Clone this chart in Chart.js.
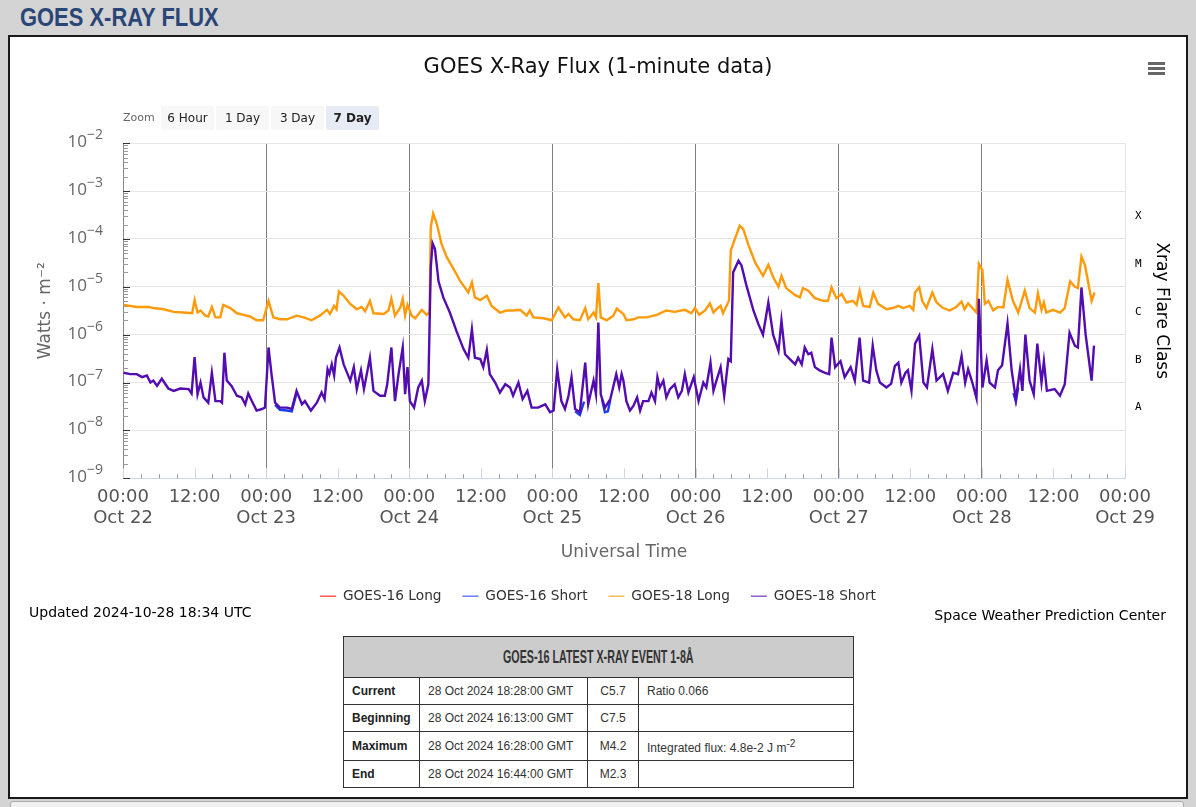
<!DOCTYPE html>
<html>
<head>
<meta charset="utf-8">
<title>GOES X-Ray Flux</title>
<script src="https://cdn.jsdelivr.net/npm/chart.js@4.4.1/dist/chart.umd.min.js"></script>
<style>
  html, body { margin: 0; padding: 0; }
  body { width: 1196px; height: 807px; background: #d4d4d4; position: relative; overflow: hidden; font-family: "DejaVu Sans", sans-serif; }
  #hdr { position: absolute; left: 20px; top: 5px; font: bold 25.5px/25.5px "Liberation Sans", Arial, sans-serif; color: #2a4677; transform: scaleX(0.86); transform-origin: left top; white-space: nowrap; }
  #panel { position: absolute; left: 8px; top: 35px; width: 1176px; height: 760px; background: #fff; border: 2px solid #1a1a1a; }
  #bottomBox { position: absolute; left: 10px; top: 801px; width: 1172px; height: 20px; background: #f0f0f0; border: 1px solid #aaa; border-radius: 3px; }
  #chartBox { position: absolute; left: 0; top: 0; width: 1196px; height: 621px; }
  .zl { position: absolute; left: 123px; top: 106px; line-height: 24px; font-size: 11px; color: #666; }
  .zb { position: absolute; top: 106px; width: 53px; height: 24px; line-height: 24px; text-align: center; font-size: 12px; color: #222; background: #f7f7f7; border-radius: 2px; }
  .zb.on { background: #e6ebf5; font-weight: bold; }
  .bar { position: absolute; left: 1148px; width: 17px; height: 3px; background: #666; }
  #updated { position: absolute; left: 29px; top: 604px; font-size: 14px; line-height: 16px; color: #000; }
  #credit { position: absolute; right: 30px; top: 607px; font-size: 14px; line-height: 16px; color: #000; }
  #evt { position: absolute; left: 343px; top: 636px; width: 510px; table-layout: fixed; border-collapse: collapse; font-family: "Liberation Sans", Arial, sans-serif; font-size: 12px; color: #333; }
  #evt th { height: 40px; background: #cccccc; border: 1px solid #333; padding: 0; text-align: center; }
  #evt th span { display: inline-block; font: bold 18.5px "Liberation Sans", Arial, sans-serif; color: #333; transform: scaleX(0.58); white-space: nowrap; }
  #evt td { border: 1px solid #333; padding: 0 0 0 8px; height: 26px; white-space: nowrap; overflow: hidden; }
  #evt td.lab { font-weight: bold; color: #222; }
  #evt td.cls { text-align: center; padding: 0; }
</style>
</head>
<body>
<div id="hdr">GOES X-RAY FLUX</div>
<div id="panel"></div>
<div id="bottomBox"></div>
<div id="chartBox"><canvas id="xrayChart" width="1196" height="621"></canvas></div>
<span class="zl">Zoom</span>
<span class="zb" style="left:161px">6 Hour</span>
<span class="zb" style="left:216px">1 Day</span>
<span class="zb" style="left:271px">3 Day</span>
<span class="zb on" style="left:326px">7 Day</span>
<div class="bar" style="top:62px"></div>
<div class="bar" style="top:67px"></div>
<div class="bar" style="top:72px"></div>
<div id="updated">Updated 2024-10-28 18:34 UTC</div>
<div id="credit">Space Weather Prediction Center</div>
<table id="evt">
  <colgroup><col style="width:76px"><col style="width:168px"><col style="width:51px"><col style="width:215px"></colgroup>
  <tr><th colspan="4"><span>GOES-16 LATEST X-RAY EVENT 1-8Å</span></th></tr>
  <tr><td class="lab">Current</td><td>28 Oct 2024 18:28:00 GMT</td><td class="cls">C5.7</td><td>Ratio 0.066</td></tr>
  <tr><td class="lab">Beginning</td><td>28 Oct 2024 16:13:00 GMT</td><td class="cls">C7.5</td><td></td></tr>
  <tr><td class="lab" style="height:28px">Maximum</td><td>28 Oct 2024 16:28:00 GMT</td><td class="cls">M4.2</td><td>Integrated flux: 4.8e-2 J m<sup>-2</sup></td></tr>
  <tr><td class="lab">End</td><td>28 Oct 2024 16:44:00 GMT</td><td class="cls">M2.3</td><td></td></tr>
</table>
<script>
// Data (hours since 2024-10-22 00:00 UTC, flux in W/m2)
const g18LongHours = [0.1, 2.3, 4.3, 5.1, 6.8, 8.5, 10.1, 11.6, 12.0, 12.5,
  13.0, 13.8, 14.3, 14.9, 15.5, 16.3, 16.8, 18.0, 19.1, 20.2,
  21.3, 22.4, 23.5, 24.4, 25.2, 26.3, 27.5, 29.1, 30.3, 31.6,
  33.0, 34.2, 34.7, 35.4, 35.8, 36.2, 37.0, 38.1, 39.2, 40.0,
  40.6, 41.4, 42.0, 43.7, 44.5, 45.0, 45.6, 46.5, 46.9, 47.3,
  47.7, 48.4, 49.0, 50.1, 50.9, 51.4, 51.6, 52.0, 52.6, 53.4,
  54.3, 55.4, 56.5, 57.9, 58.5, 59.0, 59.9, 61.0, 61.8, 63.2,
  64.3, 65.4, 66.6, 67.7, 68.2, 68.8, 70.5, 71.9, 73.0, 74.1,
  74.7, 75.5, 76.6, 77.5, 78.0, 78.9, 79.3, 79.7, 80.1, 81.1,
  82.2, 82.8, 83.9, 84.4, 85.6, 86.4, 87.8, 89.5, 91.1, 92.5,
  94.2, 95.3, 95.9, 96.6, 97.6, 98.4, 99.0, 99.5, 100.2, 100.6,
  101.6, 101.9, 102.6, 103.4, 104.0, 104.8, 106.0, 107.3, 108.2, 109.0,
  109.9, 110.4, 111.2, 112.7, 113.5, 114.0, 114.9, 116.0, 117.4, 118.2,
  118.8, 119.6, 120.5, 121.3, 122.4, 123.0, 123.5, 124.1, 125.2, 125.8,
  126.6, 128.0, 129.1, 130.0, 130.8, 131.9, 132.5, 132.8, 133.5, 134.0,
  134.7, 135.7, 136.4, 137.5, 138.6, 139.7, 140.6, 141.1, 141.7, 142.8,
  143.1, 143.5, 144.1, 144.5, 145.1, 145.9, 146.7, 147.6, 148.3, 149.2,
  150.1, 151.2, 152.0, 152.9, 153.4, 154.0, 154.4, 154.8, 155.9, 157.1,
  157.9, 158.8, 159.6, 160.1, 160.7, 161.3, 162.4, 162.9];
const g18LongFlux = [4.2e-6, 3.8e-6, 3.8e-6, 3.6e-6, 3.4e-6, 3.0e-6, 2.9e-6, 2.8e-6, 5.3e-6, 2.9e-6,
  3.2e-6, 2.5e-6, 2.4e-6, 3.8e-6, 2.3e-6, 2.3e-6, 4.2e-6, 3.6e-6, 2.8e-6, 2.6e-6,
  2.4e-6, 2.0e-6, 2.0e-6, 5.1e-6, 2.3e-6, 2.1e-6, 2.1e-6, 2.5e-6, 2.3e-6, 2.0e-6,
  2.5e-6, 3.3e-6, 2.7e-6, 4.0e-6, 3.4e-6, 8.0e-6, 6.5e-6, 4.4e-6, 3.4e-6, 3.8e-6,
  3.1e-6, 5.1e-6, 2.8e-6, 2.7e-6, 3.2e-6, 5.6e-6, 2.5e-6, 3.7e-6, 5.6e-6, 2.5e-6,
  4.2e-6, 2.5e-6, 2.2e-6, 3.3e-6, 2.6e-6, 2.9e-6, 1.75e-4, 3.4e-4, 2.1e-4, 7.9e-5,
  4.1e-5, 2.4e-5, 1.34e-5, 7.6e-6, 1.24e-5, 6.0e-6, 5.3e-6, 6.5e-6, 4.0e-6, 2.9e-6,
  3.2e-6, 3.2e-6, 3.3e-6, 2.5e-6, 3.2e-6, 2.3e-6, 2.2e-6, 2.0e-6, 3.7e-6, 2.3e-6,
  2.7e-6, 2.1e-6, 2.0e-6, 3.6e-6, 2.1e-6, 2.9e-6, 2.3e-6, 1.2e-5, 2.3e-6, 2.0e-6,
  2.5e-6, 3.5e-6, 2.7e-6, 2.0e-6, 2.1e-6, 2.3e-6, 2.3e-6, 2.6e-6, 3.2e-6, 3.0e-6,
  3.3e-6, 2.8e-6, 3.6e-6, 2.6e-6, 3.2e-6, 4.5e-6, 2.9e-6, 3.4e-6, 4.0e-6, 2.8e-6,
  5.1e-6, 5.7e-5, 1.0e-4, 1.9e-4, 1.6e-4, 7.9e-5, 3.2e-5, 1.7e-5, 2.9e-5, 1.6e-5,
  1.0e-5, 1.7e-5, 9.4e-6, 6.7e-6, 6.0e-6, 9.4e-6, 8.3e-6, 5.8e-6, 5.1e-6, 5.1e-6,
  9.7e-6, 5.8e-6, 7.1e-6, 4.7e-6, 5.1e-6, 4.2e-6, 8.3e-6, 4.0e-6, 3.8e-6, 7.5e-6,
  4.4e-6, 3.4e-6, 3.6e-6, 4.0e-6, 3.6e-6, 4.0e-6, 3.3e-6, 7.6e-6, 9.7e-6, 5.1e-6,
  3.6e-6, 7.6e-6, 4.7e-6, 3.6e-6, 3.2e-6, 3.8e-6, 4.9e-6, 3.4e-6, 4.5e-6, 3.2e-6,
  2.9e-6, 3.0e-5, 2.2e-5, 4.4e-6, 5.1e-6, 3.2e-6, 3.8e-6, 3.7e-6, 1.4e-5, 5.1e-6,
  2.9e-6, 8.3e-6, 3.6e-6, 2.9e-6, 7.3e-6, 3.3e-6, 4.7e-6, 2.9e-6, 3.3e-6, 2.9e-6,
  3.6e-6, 1.3e-5, 1.0e-5, 9.4e-6, 4.3e-5, 2.8e-5, 5.1e-6, 7.6e-6];

const g18ShortHours = [0.1, 1.2, 2.3, 3.2, 4.0, 4.6, 5.1, 5.7, 6.5, 7.6,
  8.5, 9.6, 11.0, 11.5, 12.0, 12.5, 13.0, 13.5, 14.3, 14.9,
  15.5, 16.3, 16.6, 17.0, 17.4, 18.2, 19.1, 19.9, 20.5, 21.0,
  21.6, 22.4, 23.3, 23.8, 24.4, 24.9, 25.5, 26.3, 27.5, 28.3,
  29.1, 30.0, 30.5, 31.5, 32.5, 33.3, 33.8, 34.3, 34.6, 35.0,
  35.4, 35.7, 36.3, 37.0, 38.1, 38.7, 39.2, 39.9, 40.4, 41.4,
  42.0, 43.1, 43.9, 44.3, 45.0, 45.6, 46.2, 46.9, 47.3, 47.7,
  48.1, 48.8, 49.5, 50.1, 50.6, 51.2, 51.6, 51.9, 52.3, 52.9,
  53.7, 54.8, 55.9, 57.1, 57.9, 58.5, 59.0, 59.9, 60.4, 61.0,
  61.5, 62.4, 63.2, 64.1, 64.9, 65.4, 66.3, 67.0, 67.8, 68.5,
  69.6, 70.8, 71.6, 72.2, 72.8, 73.5, 74.1, 74.7, 75.2, 75.8,
  76.6, 77.5, 78.0, 78.9, 79.3, 79.7, 80.1, 80.8, 81.7, 82.7,
  83.2, 83.6, 83.9, 84.4, 85.0, 85.6, 86.2, 86.7, 87.2, 88.1,
  88.6, 89.2, 89.6, 90.0, 90.6, 91.1, 91.7, 92.5, 93.1, 93.7,
  94.2, 94.8, 95.7, 96.5, 97.3, 97.8, 98.5, 99.0, 99.5, 100.2,
  100.8, 101.5, 101.9, 102.3, 103.2, 103.7, 104.5, 105.7, 106.5, 107.3,
  108.2, 109.0, 109.9, 110.4, 111.0, 111.8, 112.7, 113.2, 113.8, 114.3,
  114.9, 115.4, 116.0, 116.8, 117.7, 118.4, 118.8, 119.4, 120.3, 121.0,
  122.0, 122.7, 123.5, 124.1, 125.1, 125.7, 126.3, 126.9, 128.0, 128.8,
  129.4, 130.0, 130.5, 131.2, 131.6, 132.2, 132.8, 133.5, 134.2, 134.8,
  135.7, 136.4, 137.5, 138.3, 139.2, 140.0, 140.6, 141.2, 141.7, 142.4,
  143.1, 143.5, 144.1, 144.8, 145.3, 146.2, 146.7, 147.4, 148.3, 149.0,
  149.7, 150.4, 150.8, 151.3, 152.0, 152.7, 153.3, 154.0, 154.4, 154.9,
  156.2, 157.1, 157.9, 158.7, 159.6, 160.1, 160.7, 161.4, 162.4, 162.8];
const g18ShortFlux = [1.6e-7, 1.5e-7, 1.5e-7, 1.3e-7, 1.4e-7, 1.0e-7, 1.1e-7, 8.5e-8, 1.2e-7, 7.5e-8,
  6.7e-8, 7.5e-8, 7.3e-8, 5.9e-8, 3.4e-7, 5.7e-8, 1.0e-7, 4.9e-8, 3.8e-8, 1.6e-7,
  4.1e-8, 4.1e-8, 3.8e-8, 4.2e-7, 1.1e-7, 8.5e-8, 5.3e-8, 4.9e-8, 3.5e-8, 5.9e-8,
  4.1e-8, 2.6e-8, 2.8e-8, 3.0e-8, 5.4e-7, 1.5e-7, 3.8e-8, 3.0e-8, 3.0e-8, 2.8e-8,
  6.7e-8, 3.5e-8, 4.1e-8, 2.6e-8, 3.8e-8, 6.2e-8, 4.5e-8, 1.9e-7, 1.5e-7, 2.4e-7,
  1.4e-7, 3.3e-7, 5.4e-7, 2.4e-7, 1.1e-7, 2.1e-7, 7.3e-8, 1.8e-7, 7.3e-8, 3.3e-7,
  6.7e-8, 5.3e-8, 5.3e-8, 9.2e-8, 5.4e-7, 4.1e-8, 1.5e-7, 5.4e-7, 5.7e-8, 2.1e-7,
  4.1e-8, 3.0e-8, 7.9e-8, 1.1e-7, 4.1e-8, 9.2e-8, 2.5e-5, 8.1e-5, 6.2e-5, 1.3e-5,
  6.0e-6, 2.9e-6, 1.2e-6, 5.0e-7, 3.3e-7, 1.3e-6, 3.3e-7, 3.1e-7, 2.1e-7, 4.8e-7,
  1.5e-7, 1.0e-7, 6.2e-8, 9.2e-8, 7.9e-8, 5.3e-8, 1.0e-7, 4.5e-8, 6.7e-8, 3.0e-8,
  3.0e-8, 3.5e-8, 2.4e-8, 2.6e-8, 1.9e-7, 4.1e-8, 2.8e-8, 5.3e-8, 1.3e-7, 2.8e-8,
  2.4e-8, 2.6e-7, 3.5e-8, 1.1e-7, 5.7e-8, 1.8e-6, 5.7e-8, 3.0e-8, 4.5e-8, 1.5e-7,
  7.9e-8, 1.5e-7, 1.1e-7, 4.1e-8, 2.6e-8, 3.3e-8, 4.9e-8, 2.6e-8, 4.1e-8, 4.1e-8,
  6.2e-8, 4.1e-8, 1.3e-7, 7.9e-8, 1.1e-7, 4.9e-8, 7.3e-8, 9.2e-8, 4.9e-8, 6.7e-8,
  1.5e-7, 6.2e-8, 1.3e-7, 4.1e-8, 1.0e-7, 7.9e-8, 2.6e-7, 6.7e-8, 1.1e-7, 2.1e-7,
  5.3e-8, 3.1e-7, 2.8e-7, 2.0e-5, 3.5e-5, 2.8e-5, 1.1e-5, 3.2e-6, 1.7e-6, 1.0e-6,
  4.7e-6, 1.0e-6, 4.6e-7, 2.0e-6, 3.9e-7, 3.1e-7, 2.4e-7, 3.3e-7, 2.4e-7, 5.4e-7,
  3.9e-7, 4.2e-7, 2.1e-7, 1.8e-7, 1.6e-7, 1.5e-7, 8.7e-7, 2.1e-7, 2.8e-7, 1.3e-7,
  2.1e-7, 1.1e-7, 8.7e-7, 1.1e-7, 1.0e-7, 5.9e-7, 1.8e-7, 1.0e-7, 7.9e-8, 9.5e-8,
  2.2e-7, 2.6e-7, 1.0e-7, 1.6e-7, 1.8e-7, 6.7e-8, 6.5e-7, 9.5e-7, 1.0e-7, 7.9e-8,
  5.0e-7, 1.1e-7, 1.5e-7, 6.7e-8, 1.6e-7, 1.5e-7, 3.6e-7, 1.0e-7, 1.9e-7, 1.0e-7,
  4.7e-8, 5.6e-6, 7.9e-8, 2.9e-7, 1.0e-7, 7.9e-8, 1.8e-7, 2.3e-7, 1.7e-6, 1.8e-7,
  4.5e-8, 1.9e-7, 6.7e-8, 1.0e-6, 1.1e-7, 5.7e-8, 6.5e-7, 1.0e-7, 2.8e-7, 6.7e-8,
  7.3e-8, 5.3e-8, 9.2e-8, 1.1e-6, 5.9e-7, 5.4e-7, 9.7e-6, 1.0e-6, 1.1e-7, 5.9e-7];

// GOES-16 short only shows where it dips below GOES-18 (null = gap)
const g16ShortHours = [25.5, 26.3, 27.5, 28.3, 29.1, 29.3, 75.8, 76.6, 77.3, 77.5,
  80.3, 80.8, 81.3, 81.7, 81.9, 149.3, 149.7, 150.1];
const g16ShortFlux = [3.4e-8, 2.7e-8, 2.6e-8, 2.5e-8, 6.0e-8, null, 2.5e-8, 2.1e-8, 4.0e-8, null,
  4.5e-8, 2.4e-8, 2.5e-8, 4.3e-8, null, 6.0e-8, 4.0e-8, 8.0e-8];
const g16LongHours = [];
const g16LongFlux = [];

// Axis labels
const decadeTicks = [1e-9, 1e-8, 1e-7, 1e-6, 1e-5, 1e-4, 1e-3, 1e-2];
const decadeExps = ["−9", "−8", "−7", "−6", "−5", "−4", "−3", "−2"];
const classLevels = [3e-8, 3e-7, 3e-6, 3e-5, 3e-4];
const classLabels = ["A", "B", "C", "M", "X"];
const hourLabels = ["00:00", "12:00"];
const dayLabels = ["Oct 22", "Oct 23", "Oct 24", "Oct 25", "Oct 26", "Oct 27", "Oct 28", "Oct 29"];

const toPoints = (hours, flux) => hours.map((h, i) => ({ x: h, y: flux[i] }));

Chart.defaults.font.family = "'DejaVu Sans', sans-serif";

// small tick marks inside the plot and the 10^n labels with real superscripts
const tickMarks = {
  id: "tickMarks",
  beforeDatasetsDraw(chart) {
    const { ctx, chartArea: a, scales: { x, y } } = chart;
    ctx.save();
    ctx.lineWidth = 1;
    decadeTicks.forEach((v, i) => {
      const py = Math.round(y.getPixelForValue(v)) + 0.5;
      ctx.strokeStyle = "#333";
      ctx.beginPath(); ctx.moveTo(a.left, py); ctx.lineTo(a.left + 7, py); ctx.stroke();
      if (i === decadeTicks.length - 1) return;
      ctx.strokeStyle = "#999";
      for (let m = 2; m < 10; m++) {
        const pm = Math.round(y.getPixelForValue(v * m)) + 0.5;
        ctx.beginPath(); ctx.moveTo(a.left, pm); ctx.lineTo(a.left + 5, pm); ctx.stroke();
      }
    });
    for (let h = 0; h <= 168; h += 3) {
      const px = Math.round(x.getPixelForValue(h)) + 0.5;
      const major = h % 12 === 0;
      ctx.strokeStyle = major ? "#ccd6eb" : "#999";
      ctx.beginPath(); ctx.moveTo(px, a.bottom); ctx.lineTo(px, a.bottom - (major ? 10 : 4)); ctx.stroke();
    }
    ctx.restore();
  },
  afterDraw(chart) {
    const { ctx, chartArea: a, scales: { y } } = chart;
    ctx.save();
    ctx.fillStyle = "#666";
    ctx.textBaseline = "middle";
    decadeTicks.forEach((v, i) => {
      const py = y.getPixelForValue(v);
      ctx.font = "17px 'Open Sans', sans-serif";
      ctx.textAlign = "right";
      ctx.fillText("10", a.left - 36, py - 1);
      ctx.font = "14px 'Open Sans', sans-serif";
      ctx.textAlign = "left";
      ctx.fillText(decadeExps[i], a.left - 36, py - 8);
    });
    ctx.restore();
  }
};

new Chart(document.getElementById("xrayChart"), {
  type: "line",
  data: {
    datasets: [
      { label: "GOES-16 Long", data: toPoints(g16LongHours, g16LongFlux), borderColor: "#ff0000", backgroundColor: "#ff0000", order: 3 },
      { label: "GOES-16 Short", data: toPoints(g16ShortHours, g16ShortFlux), borderColor: "#1a3cf0", backgroundColor: "#1a3cf0", order: 2 },
      { label: "GOES-18 Long", data: toPoints(g18LongHours, g18LongFlux), borderColor: "#ff9a0a", backgroundColor: "#ff9a0a", order: 1 },
      { label: "GOES-18 Short", data: toPoints(g18ShortHours, g18ShortFlux), borderColor: "#520cb0", backgroundColor: "#520cb0", order: 0 }
    ]
  },
  options: {
    responsive: false,
    animation: false,
    devicePixelRatio: 1,
    layout: { padding: { left: 0, right: 0, top: 0, bottom: 8 } },
    elements: { point: { radius: 0 }, line: { borderWidth: 2.4, tension: 0 } },
    plugins: {
      title: {
        display: true,
        text: "GOES X-Ray Flux (1-minute data)",
        color: "#111",
        font: { size: 21, weight: "normal" },
        padding: { top: 55, bottom: 63 }
      },
      legend: {
        position: "bottom",
        labels: {
          usePointStyle: true,
          pointStyle: "line",
          pointStyleWidth: 16,
          color: "#333",
          font: { size: 13.7 },
          padding: 21,
          sort: (p, q) => p.datasetIndex - q.datasetIndex
        }
      },
      tooltip: { enabled: false }
    },
    scales: {
      x: {
        type: "linear",
        min: 0,
        max: 168,
        ticks: {
          stepSize: 12,
          autoSkip: false,
          maxRotation: 0,
          padding: 8,
          color: "#555",
          font: { size: 18 },
          callback: v => v % 24 === 0 ? [hourLabels[0], dayLabels[v / 24]] : hourLabels[1]
        },
        grid: {
          drawTicks: false,
          color: c => (c.tick && c.tick.value % 24 === 0 && c.tick.value > 0 && c.tick.value < 168) ? "#808080" : "rgba(0,0,0,0)"
        },
        border: { color: "#ccd6eb" },
        title: { display: true, text: "Universal Time", color: "#666", font: { size: 17 }, padding: { top: 0, bottom: 6 } },
        afterFit: s => { s.height = 90; }
      },
      y: {
        type: "logarithmic",
        position: "left",
        min: 1e-9,
        max: 1e-2,
        afterBuildTicks: s => { s.ticks = decadeTicks.map(v => ({ value: v })); },
        ticks: { display: false },
        grid: { color: "#e6e6e6", drawTicks: false },
        border: { color: "#888" },
        title: { display: true, text: "Watts · m⁻²", color: "#666", font: { size: 17 }, padding: { top: 35, bottom: 0 } },
        afterFit: s => { s.width = 123; }
      },
      y2: {
        type: "logarithmic",
        position: "right",
        min: 1e-9,
        max: 1e-2,
        afterBuildTicks: s => { s.ticks = classLevels.map(v => ({ value: v })); },
        ticks: { callback: (v, i) => classLabels[i], padding: 10, color: "#000", font: { family: "'DejaVu Sans Mono', monospace", size: 11 } },
        grid: { drawOnChartArea: false, drawTicks: false },
        border: { color: "#e6e6e6" },
        title: { display: true, text: "Xray Flare Class", color: "#000", font: { size: 17 }, padding: { top: 24, bottom: 0 } },
        afterFit: s => { s.width = 71; }
      }
    }
  },
  plugins: [tickMarks]
});
</script>
</body>
</html>
